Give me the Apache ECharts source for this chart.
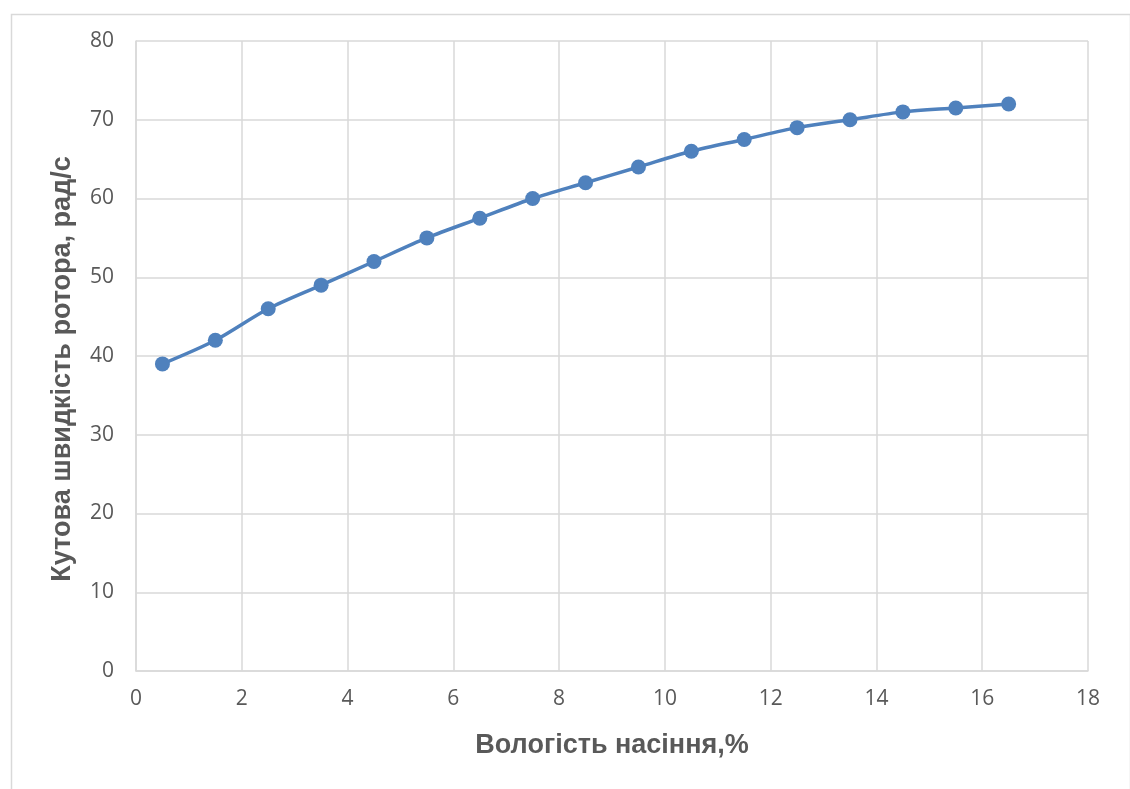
<!DOCTYPE html>
<html>
<head>
<meta charset="utf-8">
<script src="https://cdn.jsdelivr.net/npm/echarts@6/dist/echarts.min.js"></script>
<style>html,body{margin:0;padding:0;background:#fff;}#c{width:1130px;height:789px;}</style>
</head>
<body>
<div id="c"></div>
<script>
const moisture = [0.5, 1.5, 2.5, 3.5, 4.5, 5.5, 6.5, 7.5, 8.5, 9.5, 10.5, 11.5, 12.5, 13.5, 14.5, 15.5, 16.5];
const angularSpeed = [39, 42, 46, 49, 52, 55, 57.5, 60, 62, 64, 66, 67.5, 69, 70, 71, 71.5, 72];
const xTitle = 'Вологість насіння,%';
const yTitle = 'Кутова швидкість ротора, рад/с';

const tickFont = '"Open Sans", sans-serif';
const titleFont = '"Liberation Sans", Arial, sans-serif';
const chart = echarts.init(document.getElementById('c'), null, {renderer: 'canvas'});
chart.setOption({
  animation: false,
  backgroundColor: '#fff',
  graphic: [{
    type: 'rect', left: 9, top: 12, shape: {width: 1119, height: 820},
    style: {fill: 'none', stroke: '#d9d9d9', lineWidth: 1.5}, silent: true
  }],
  grid: {left: 136, right: 42, top: 41, bottom: 118},
  xAxis: {
    type: 'value', min: 0, max: 18, interval: 2,
    name: xTitle, nameLocation: 'middle', nameGap: 61,
    nameTextStyle: {fontSize: 27, fontWeight: 'bold', color: '#595959', fontFamily: titleFont},
    axisLine: {show: true, lineStyle: {color: '#d9d9d9', width: 1.5}},
    axisTick: {show: false},
    axisLabel: {fontSize: 21, color: '#595959', fontFamily: tickFont, margin: 18},
    splitLine: {show: true, lineStyle: {color: '#d9d9d9', width: 1.5}}
  },
  yAxis: {
    type: 'value', min: 0, max: 80, interval: 10,
    name: yTitle, nameLocation: 'middle', nameGap: 60,
    nameTextStyle: {fontSize: 27, fontWeight: 'bold', color: '#595959', fontFamily: titleFont, padding: [0, 26, 0, 0]},
    axisLine: {show: true, lineStyle: {color: '#d9d9d9', width: 1.5}},
    axisTick: {show: false},
    axisLabel: {fontSize: 21, color: '#595959', fontFamily: tickFont, margin: 22},
    splitLine: {show: true, lineStyle: {color: '#d9d9d9', width: 1.5}}
  },
  series: [{
    type: 'line',
    data: moisture.map((x, i) => [x, angularSpeed[i]]),
    smooth: 0.3,
    symbol: 'circle', symbolSize: 15,
    lineStyle: {color: '#4f81bd', width: 3.5},
    itemStyle: {color: '#4f81bd'}
  }]
});
</script>
</body>
</html>
